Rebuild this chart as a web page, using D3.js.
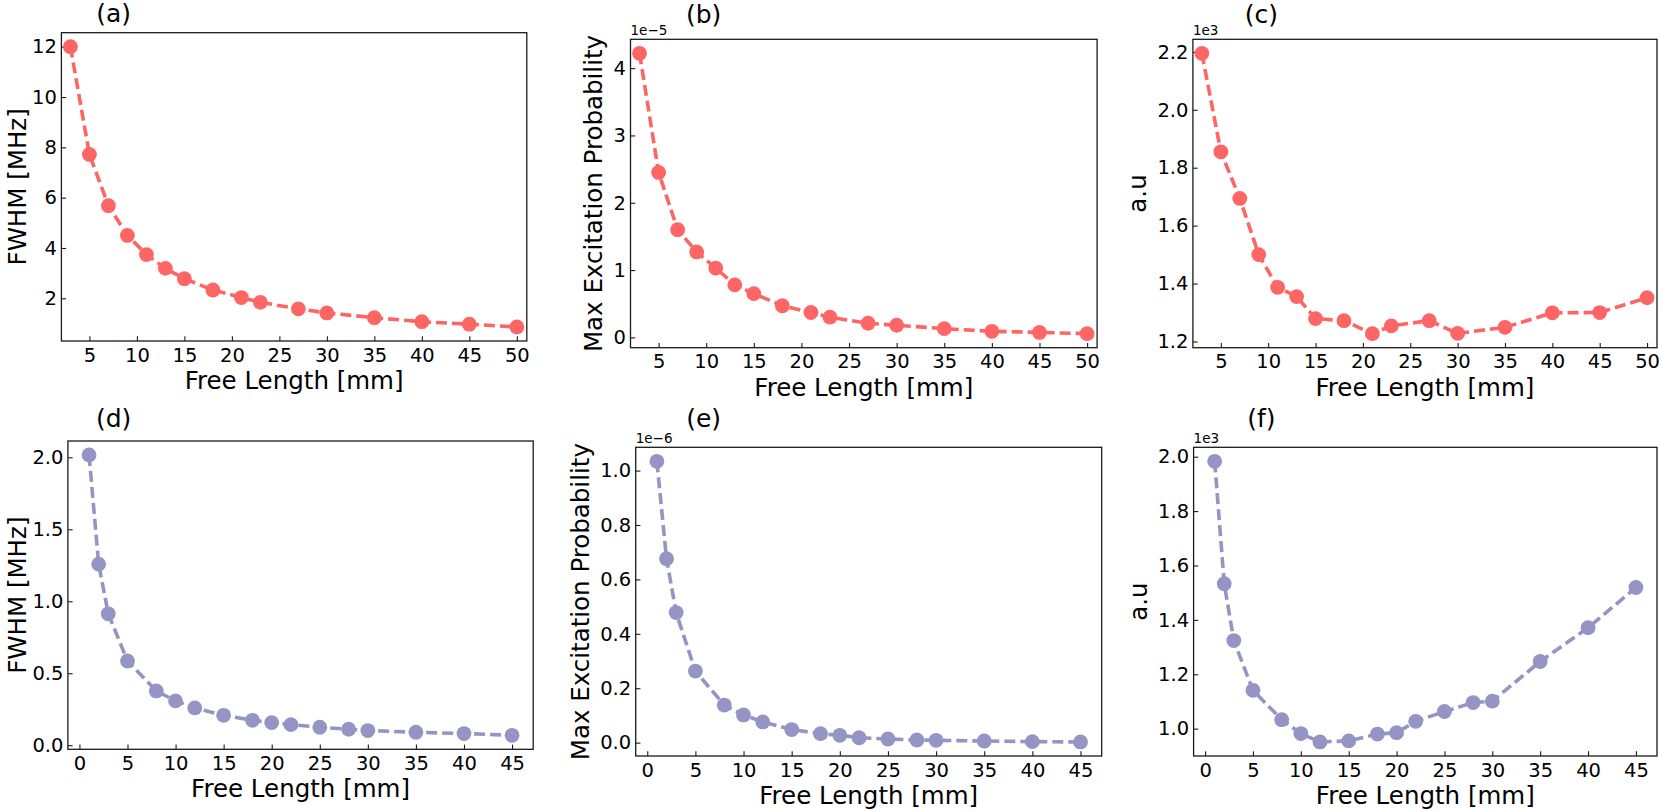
<!DOCTYPE html>
<html>
<head>
<meta charset="utf-8">
<script src="https://cdn.jsdelivr.net/npm/d3@7"></script>
<style>
  body { margin: 0; background: #fff; }
  svg { display: block; font-family: "DejaVu Sans", sans-serif; }
</style>
</head>
<body>
<svg id="chart"></svg>
<script>
// free lengths [mm]
const xTop = [3, 5, 7, 9, 11, 13, 15, 18, 21, 23, 27, 30, 35, 40, 45, 50];
const xBot = [1, 2, 3, 5, 8, 10, 12, 15, 18, 20, 22, 25, 28, 30, 35, 40, 45];

// top row (red)
const fwhmTop = [12.0, 7.72, 5.68, 4.50, 3.74, 3.19, 2.78, 2.33, 2.03, 1.84, 1.58, 1.42, 1.23, 1.07, 0.97, 0.86];
const probTop = [4.22, 2.45, 1.60, 1.27, 1.03, 0.78, 0.65, 0.47, 0.37, 0.30, 0.21, 0.18, 0.13, 0.09, 0.074, 0.055]; // x1e-5
const auTop = [2.195, 1.855, 1.694, 1.50, 1.387, 1.355, 1.279, 1.272, 1.227, 1.254, 1.272, 1.228, 1.249, 1.299, 1.30, 1.351]; // x1e3

// bottom row (purple)
const fwhmBot = [2.016, 1.258, 0.913, 0.585, 0.377, 0.308, 0.259, 0.208, 0.173, 0.157, 0.143, 0.125, 0.111, 0.102, 0.090, 0.081, 0.069];
const probBot = [1.034, 0.676, 0.478, 0.263, 0.138, 0.102, 0.076, 0.048, 0.033, 0.027, 0.018, 0.0135, 0.0098, 0.0086, 0.006, 0.0037, 0.0025]; // x1e-6
const auBot = [1.983, 1.533, 1.324, 1.141, 1.033, 0.982, 0.951, 0.955, 0.980, 0.985, 1.027, 1.063, 1.096, 1.101, 1.247, 1.371, 1.519]; // x1e3

const xTicksTop = [5, 10, 15, 20, 25, 30, 35, 40, 45, 50];
const xTicksBot = [0, 5, 10, 15, 20, 25, 30, 35, 40, 45];

const width = 1662;
const height = 811;
const red = '#fe6565';
const purple = '#9494c5';

const svg = d3.select('#chart')
  .attr('width', width)
  .attr('height', height);

// panel boxes: [left, top, right, bottom]; tag position
const panels = [
  { id: '(a)', box: [61.4, 32.7, 526.8, 341], title: [113.6, 22], x: xTop, y: fwhmTop, xDom: [2.05, 51.05],
    xTicks: xTicksTop, yTicks: [2, 4, 6, 8, 10, 12], fmt: d3.format('d'), ylabel: 'FWHM [MHz]', color: red },
  { id: '(b)', box: [630.5, 39.3, 1097.1, 347.7], title: [703.6, 23], x: xTop, y: probTop, xDom: [2.05, 51.05],
    xTicks: xTicksTop, yTicks: [0, 1, 2, 3, 4], fmt: d3.format('d'), ylabel: 'Max Excitation Probability', color: red, offset: '1e\u22125' },
  { id: '(c)', box: [1192.9, 39.3, 1657, 347.7], title: [1261.4, 23], x: xTop, y: auTop, xDom: [2.05, 51.05],
    xTicks: xTicksTop, yTicks: [1.2, 1.4, 1.6, 1.8, 2.0, 2.2], fmt: d3.format('.1f'), ylabel: 'a.u', color: red, offset: '1e3' },
  { id: '(d)', box: [67.9, 441, 533.2, 749.3], title: [113.6, 427], x: xBot, y: fwhmBot, xDom: [-1.2, 47.2],
    xTicks: xTicksBot, yTicks: [0, 0.5, 1.0, 1.5, 2.0], fmt: d3.format('.1f'), ylabel: 'FWHM [MHz]', color: purple },
  { id: '(e)', box: [635.7, 447.3, 1101.7, 756], title: [703.6, 427], x: xBot, y: probBot, xDom: [-1.2, 47.2],
    xTicks: xTicksBot, yTicks: [0, 0.2, 0.4, 0.6, 0.8, 1.0], fmt: d3.format('.1f'), ylabel: 'Max Excitation Probability', color: purple, offset: '1e\u22126' },
  { id: '(f)', box: [1193.6, 447.3, 1657, 756], title: [1261.4, 427], x: xBot, y: auBot, xDom: [-1.2, 47.2],
    xTicks: xTicksBot, yTicks: [1.0, 1.2, 1.4, 1.6, 1.8, 2.0], fmt: d3.format('.1f'), ylabel: 'a.u', color: purple, offset: '1e3' }
];

const tickLen = 4.7;

panels.forEach(p => {
  const [l, t, r, b] = p.box;
  const pts = p.x.map((v, i) => [v, p.y[i]]);

  // y limits with matplotlib-like 5% margins
  const [ymin, ymax] = d3.extent(p.y);
  const pad = (ymax - ymin) * 0.05;

  const x = d3.scaleLinear().domain(p.xDom).range([l, r]);
  const y = d3.scaleLinear().domain([ymin - pad, ymax + pad]).range([b, t]);

  const g = svg.append('g');

  // axes (ticks point inward)
  const xAxis = g.append('g')
    .attr('transform', `translate(0, ${b})`)
    .call(d3.axisBottom(x).tickValues(p.xTicks).tickSizeInner(-tickLen).tickSizeOuter(0).tickPadding(6.9));

  const yAxis = g.append('g')
    .attr('transform', `translate(${l}, 0)`)
    .call(d3.axisLeft(y).tickValues(p.yTicks).tickFormat(p.fmt).tickSizeInner(-tickLen).tickSizeOuter(0).tickPadding(4.5));

  [xAxis, yAxis].forEach(ax => {
    ax.select('.domain').remove();
    ax.selectAll('line').attr('stroke', '#1a1a1a').attr('stroke-width', 1.1);
    ax.selectAll('text')
      .attr('fill', '#000')
      .style('font-family', '"DejaVu Sans", sans-serif')
      .style('font-size', '19.5px');
  });

  // frame
  g.append('rect')
    .attr('x', l).attr('y', t)
    .attr('width', r - l).attr('height', b - t)
    .attr('fill', 'none')
    .attr('stroke', '#1a1a1a')
    .attr('stroke-width', 1.3);

  // dashed line + markers
  const line = d3.line().x(d => x(d[0])).y(d => y(d[1]));

  g.append('path')
    .datum(pts)
    .attr('d', line)
    .attr('fill', 'none')
    .attr('stroke', p.color)
    .attr('stroke-width', 3.6)
    .attr('stroke-dasharray', '11,5');

  g.selectAll('circle')
    .data(pts)
    .enter().append('circle')
    .attr('cx', d => x(d[0]))
    .attr('cy', d => y(d[1]))
    .attr('r', 7.4)
    .attr('fill', p.color);

  // x label
  g.append('text')
    .attr('x', (l + r) / 2)
    .attr('y', b + 48)
    .attr('text-anchor', 'middle')
    .style('font-size', '24.5px')
    .text('Free Length [mm]');

  // y label, placed left of the tick labels (bbox is in the axis group's own coords)
  // kept a little off the page edge
  const yb = yAxis.node().getBBox();
  const labelX = Math.max(l + yb.x - 11.5, 26);
  g.append('text')
    .attr('transform', `translate(${labelX}, ${(t + b) / 2}) rotate(-90)`)
    .attr('text-anchor', 'middle')
    .style('font-size', '24.5px')
    .text(p.ylabel);

  // offset text (scientific multiplier)
  if (p.offset) {
    g.append('text')
      .attr('x', l)
      .attr('y', t - 4.5)
      .style('font-size', '13.5px')
      .text(p.offset);
  }

  // panel tag
  g.append('text')
    .attr('x', p.title[0])
    .attr('y', p.title[1])
    .attr('text-anchor', 'middle')
    .style('font-size', '25px')
    .text(p.id);
});
</script>
</body>
</html>
